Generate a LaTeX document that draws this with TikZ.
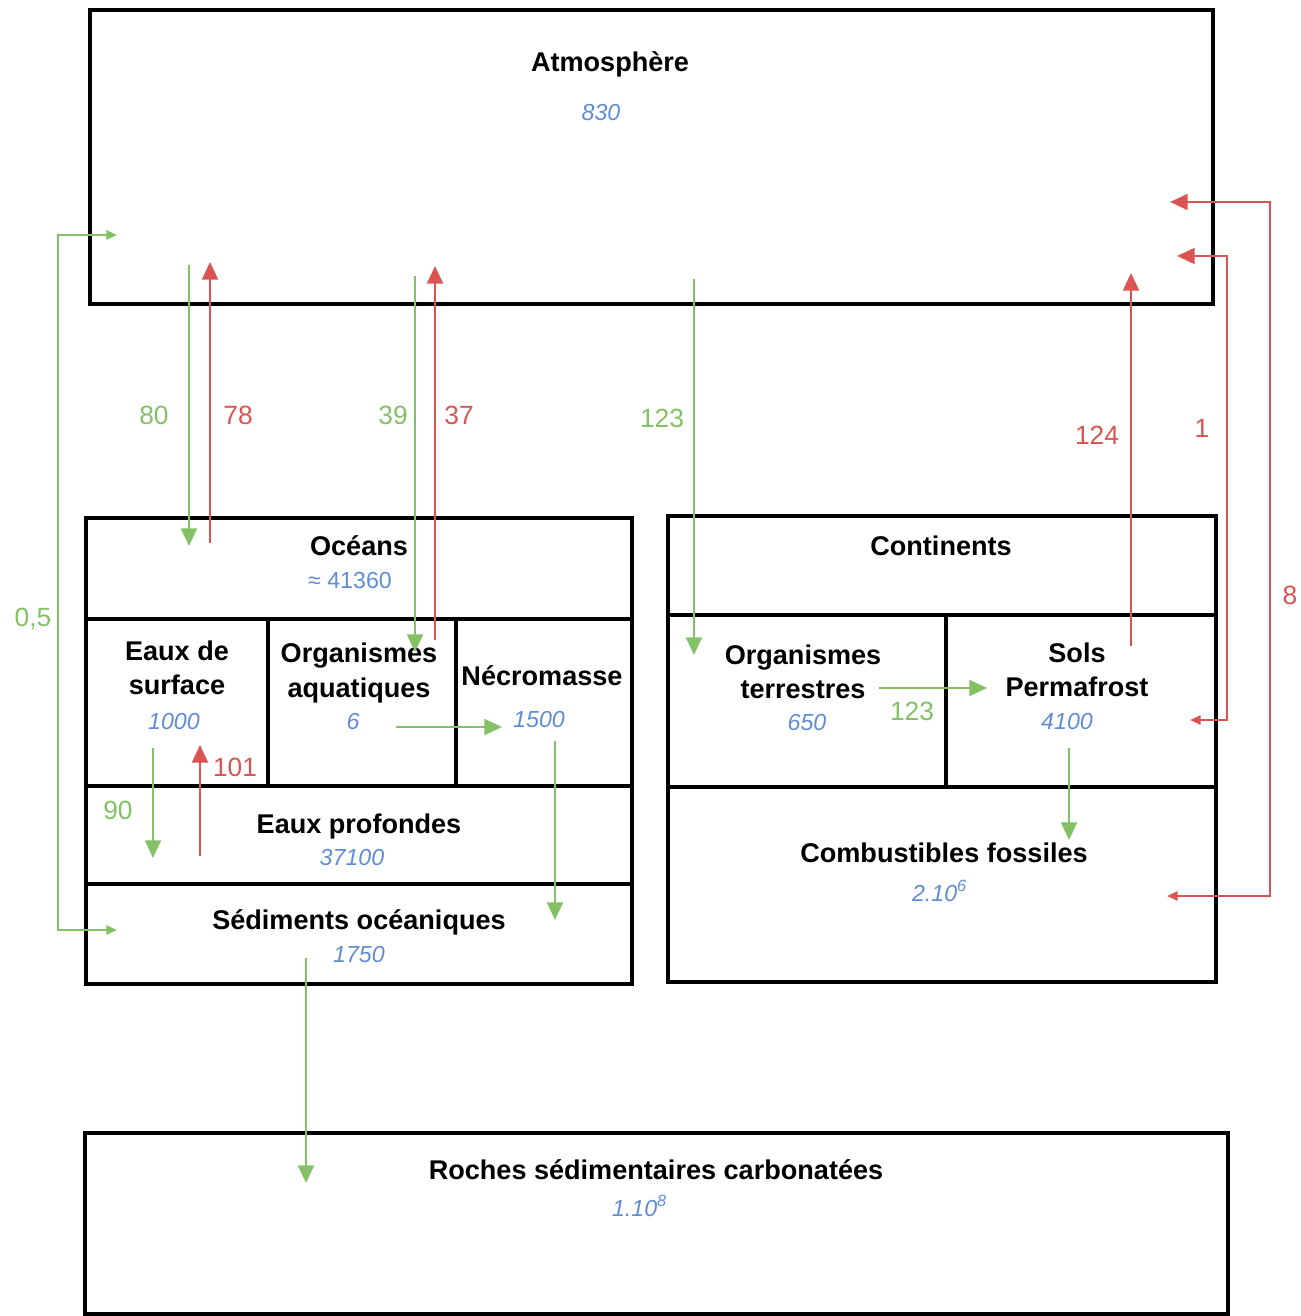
\documentclass[tikz,border=0pt]{standalone}
\usepackage{fontspec}
\setmainfont{Liberation Sans}
\usetikzlibrary{arrows.meta,fit}

\definecolor{flowgreen}{RGB}{132,192,102}
\definecolor{flowred}{RGB}{218,84,84}
\definecolor{stockblue}{RGB}{96,140,214}

\tikzset{
  cell/.style={draw, line width=1pt, inner sep=0pt},
  title/.style={font=\fontsize{7.7}{9.7}\selectfont\bfseries, align=center, inner sep=0pt},
  stock/.style={font=\fontsize{6.6}{7.8}\selectfont\itshape, text=stockblue, inner sep=0pt},
  flow/.style={font=\fontsize{7.5}{9}\selectfont, inner sep=0pt},
  gin/.style={flowgreen, line width=0.7pt, -{Triangle[width=4.5pt,length=5pt]}},
  rout/.style={flowred, line width=0.7pt, -{Triangle[width=4.5pt,length=5pt]}},
  gloop/.style={flowgreen, line width=0.6pt, {Triangle[width=2.6pt,length=3pt]}-{Triangle[width=2.6pt,length=3pt]}},
  rloop/.style={flowred, line width=0.6pt, {Triangle[width=2.6pt,length=3pt]}-{Triangle[width=4.5pt,length=5pt]}},
}

\begin{document}
\begin{tikzpicture}[x=0.01cm, y=-0.01cm]
    \useasboundingbox (0,0) rectangle (1301,1316);

    % Atmosphere
    \node[cell, fit={(90,10) (1213,304)}] (atm) {};
    \node[title] (atmT) at (610,64) {Atmosphère};
    \node[stock] (atmV) at (601,113) {830};

    % Oceans
    \node[cell, fit={(86,518) (632,619)}] (oce) {};
    \node[title] (oceT) at (359,546) {Océans};
    \node[stock, font=\fontsize{6.6}{7.8}\selectfont] (oceV) at (350,581) {≈ 41360};

    \node[cell, fit={(86,619) (268,786)}] (surf) {};
    \node[title] (surfT) at (177,668) {Eaux de\\surface};
    \node[stock] (surfV) at (174,722) {1000};

    \node[cell, fit={(268,619) (456,786)}] (aqua) {};
    \node[title] (aquaT) at (359,673) {Organismes\\aquatiques};
    \node[stock] (aquaV) at (353,722) {6};

    \node[cell, fit={(456,619) (632,786)}] (necro) {};
    \node[title] (necroT) at (542,676) {Nécromasse};
    \node[stock] (necroV) at (539,720) {1500};

    \node[cell, fit={(86,786) (632,884)}] (prof) {};
    \node[title] (profT) at (359,826) {Eaux profondes};
    \node[stock] (profV) at (352,858) {37100};

    \node[cell, fit={(86,884) (632,984)}] (sedi) {};
    \node[title] (sediT) at (359,922) {Sédiments océaniques};
    \node[stock] (sediV) at (359,954) {1750};

    % Continents
    \node[cell, fit={(668,516) (1216,615)}] (cont) {};
    \node[title] (contT) at (941,546) {Continents};

    \node[cell, fit={(668,615) (946,787)}] (terr) {};
    \node[title] (terrT) at (803,672) {Organismes\\terrestres};
    \node[stock] (terrV) at (807,723) {650};

    \node[cell, fit={(946,615) (1216,787)}] (sols) {};
    \node[title] (solsT) at (1077,670) {Sols\\Permafrost};
    \node[stock] (solsV) at (1067,722) {4100};

    \node[cell, fit={(668,787) (1216,982)}] (foss) {};
    \node[title] (fossT) at (944,853) {Combustibles fossiles};
    \node[stock] (fossV) at (940,891) {2.10\textsuperscript{6}};

    % Roches
    \node[cell, fit={(85,1133) (1228,1314)}] (roch) {};
    \node[title] (rochT) at (656,1170) {Roches sédimentaires carbonatées};
    \node[stock] (rochV) at (640,1206) {1.10\textsuperscript{8}};

    % Arrow ends
    \coordinate (a80) at (189,265);  \coordinate (o80) at (189,546);
    \coordinate (o78) at (210,543);  \coordinate (a78) at (210,262);
    \coordinate (a39) at (415,276);  \coordinate (o39) at (415,652);
    \coordinate (o37) at (435,640);  \coordinate (a37) at (435,266);
    \coordinate (a123) at (694,279); \coordinate (t123) at (694,655);
    \coordinate (s124) at (1131,646); \coordinate (a124) at (1131,273);
    \coordinate (s1) at (1190,720);  \coordinate (a1) at (1177,256);
    \coordinate (f8) at (1167,896);  \coordinate (a8) at (1170,202);
    \coordinate (a05) at (117,235);  \coordinate (s05) at (117,930);
    \coordinate (aq1) at (396,727);  \coordinate (ne1) at (502,727);
    \coordinate (ne2) at (555,741);  \coordinate (se1) at (555,920);
    \coordinate (su90) at (153,748); \coordinate (pr90) at (153,858);
    \coordinate (pr101) at (200,856); \coordinate (su101) at (200,745);
    \coordinate (se2) at (306,958);  \coordinate (ro1) at (306,1183);
    \coordinate (te1) at (879,688);  \coordinate (so1) at (987,688);
    \coordinate (so2) at (1069,748); \coordinate (fo1) at (1069,840);

    % Arrows
    \draw[gin] (a80) -- (o80);
    \draw[rout] (o78) -- (a78);
    \draw[gin] (a39) -- (o39);
    \draw[rout] (o37) -- (a37);
    \draw[gin] (a123) -- (t123);
    \draw[rout] (s124) -- (a124);
    \draw[rloop] (s1) -- ++(37,0) |- (a1);
    \draw[rloop] (f8) -- ++(103,0) |- (a8);
    \draw[gloop] (a05) -- ++(-59,0) |- (s05);
    \draw[gin] (aq1) -- (ne1);
    \draw[gin] (ne2) -- (se1);
    \draw[gin] (su90) -- (pr90);
    \draw[rout] (pr101) -- (su101);
    \draw[gin] (se2) -- (ro1);
    \draw[gin] (te1) -- (so1);
    \draw[gin] (so2) -- (fo1);

    % Flow labels
    \node[flow, text=flowgreen] (l80) at (154,415) {80};
    \node[flow, text=flowred] (l78) at (238,415) {78};
    \node[flow, text=flowgreen] (l39) at (393,415) {39};
    \node[flow, text=flowred] (l37) at (459,415) {37};
    \node[flow, text=flowgreen] (l123) at (662,418) {123};
    \node[flow, text=flowred] (l124) at (1097,435) {124};
    \node[flow, text=flowred] (l1) at (1202,428) {1};
    \node[flow, text=flowred] (l8) at (1290,595) {8};
    \node[flow, text=flowgreen] (l05) at (33,619) {0,5};
    \node[flow, text=flowgreen] (l90) at (118,810) {90};
    \node[flow, text=flowred] (l101) at (235,767) {101};
    \node[flow, text=flowgreen] (l123b) at (912,711) {123};
\end{tikzpicture}
\end{document}
